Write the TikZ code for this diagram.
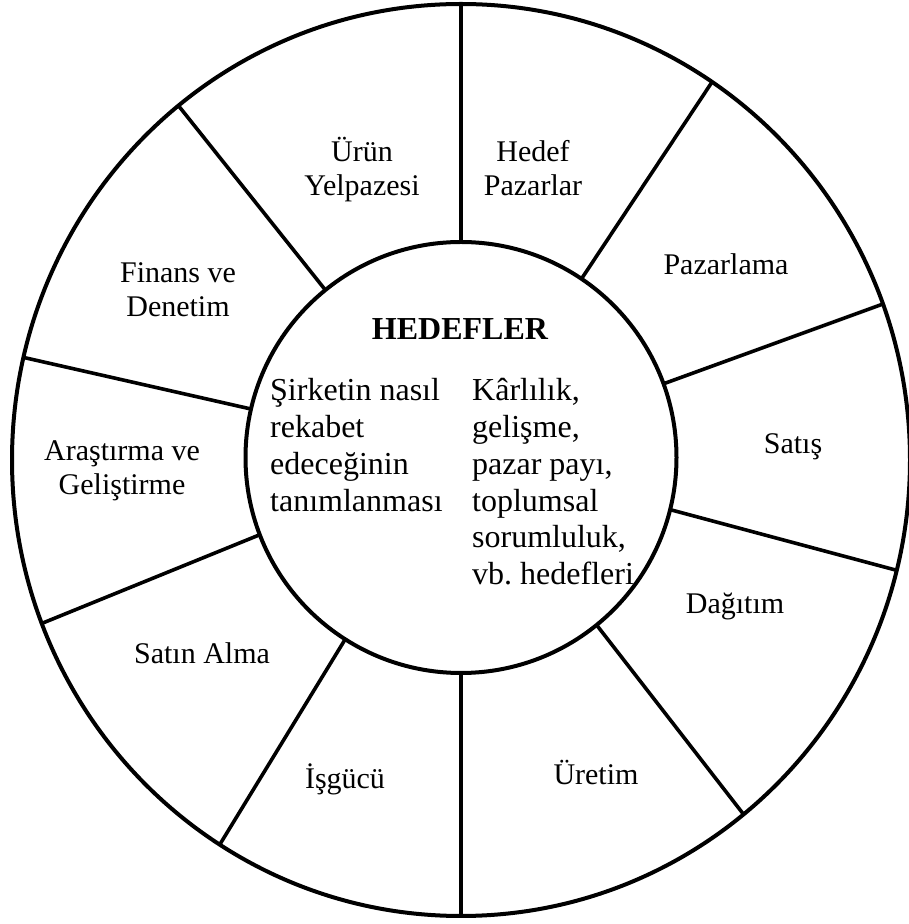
\documentclass[tikz,border=0pt]{standalone}
\usepackage{fontspec}
\setmainfont{Liberation Serif}
\usetikzlibrary{calc}
\begin{document}
\begin{tikzpicture}[x=1pt,y=1pt,
  rim/.style={line width=4pt},
  spoke/.style={line width=3.6pt},
  seg/.style={font=\fontsize{30}{33.5}\selectfont, inner sep=0pt, anchor=base},
  hubtitle/.style={font=\fontsize{32}{37}\selectfont\bfseries, inner sep=0pt, anchor=base},
  hubline/.style={font=\fontsize{32}{37}\selectfont, inner sep=0pt, anchor=base west}]
\useasboundingbox (0,0) rectangle (909,924);
% wheel centres
\coordinate (O) at (461,464);
\coordinate (I) at (461,466.5);
% outer rim and hub
\draw[rim] (O) ellipse [x radius=449, y radius=456];
\draw[rim] (I) circle [radius=215.5];
% spokes between hub and rim
\foreach \a in {90,56,20,-14,-51,-90,-122.5,-159,167,129}{
  \draw[spoke] ($(I)+(\a:215.5)$) -- ($(O)+(\a:449 and 456)$);
}
% segment labels
\node[seg] (urun1) at (362,762) {Ürün};
\node[seg] (urun2) at (362,728.5) {Yelpazesi};
\node[seg] (hedef1) at (533,762) {Hedef};
\node[seg] (hedef2) at (533,728.5) {Pazarlar};
\node[seg] (paz) at (726,649) {Pazarlama};
\node[seg] (satis) at (793,470) {Satış};
\node[seg] (dag) at (735,310) {Dağıtım};
\node[seg] (uret) at (596,139) {Üretim};
\node[seg] (isg) at (345,135) {İşgücü};
\node[seg] (satin) at (202,260) {Satın Alma};
\node[seg] (arge1) at (122,463) {Araştırma ve};
\node[seg] (arge2) at (122,429.5) {Geliştirme};
\node[seg] (fin1) at (178,641) {Finans ve};
\node[seg] (fin2) at (178,607.5) {Denetim};
% hub text
\node[hubtitle] (title) at (460,584) {HEDEFLER};
\foreach \t [count=\i] in {Şirketin nasıl,rekabet,edeceğinin,tanımlanması}{
  \node[hubline] (left\i) at (270,{523.3-36.8*(\i-1)}) {\t};
}
\foreach \t [count=\i] in {{Kârlılık,},{gelişme,},{pazar payı,},toplumsal,{sorumluluk,},{vb.\ hedefleri}}{
  \node[hubline] (right\i) at (472,{523.3-36.8*(\i-1)}) {\t};
}
\end{tikzpicture}
\end{document}
